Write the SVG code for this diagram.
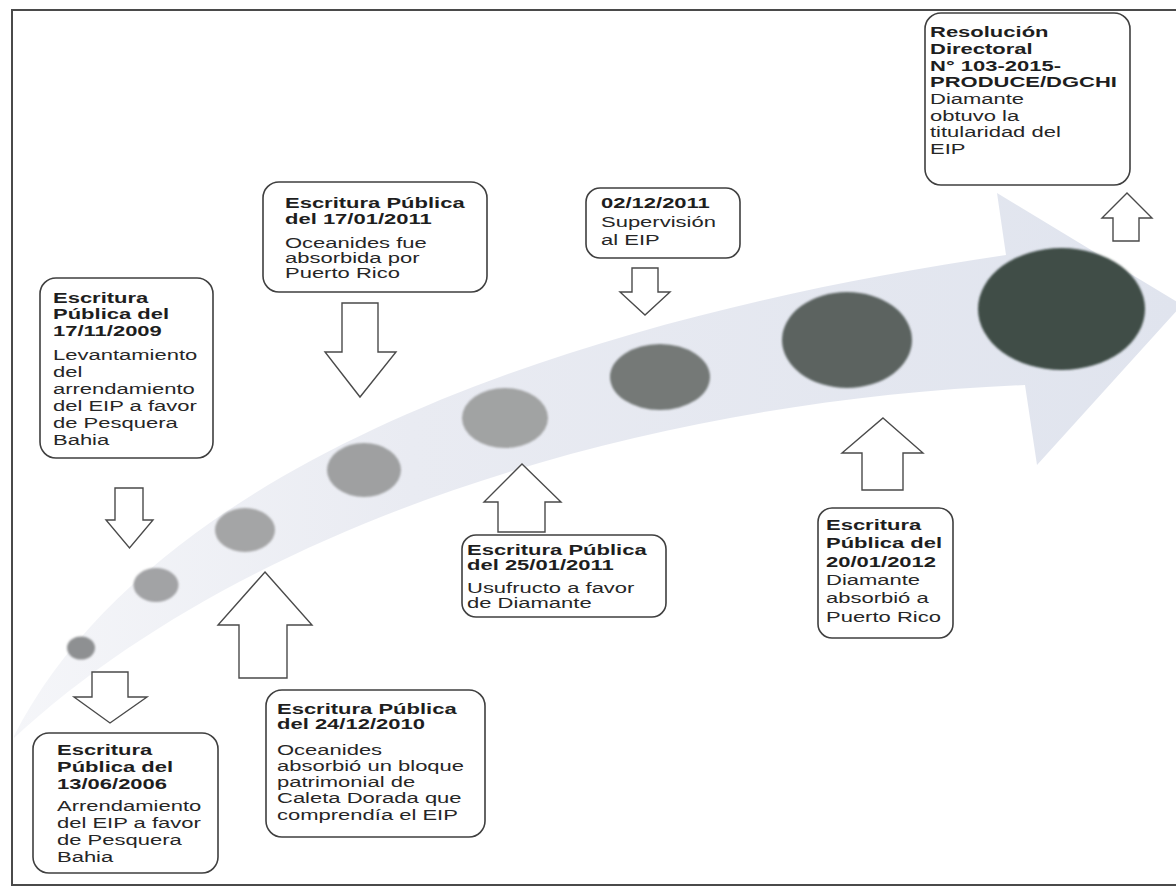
<svg xmlns="http://www.w3.org/2000/svg" width="1176" height="893" viewBox="0 0 1176 893">
<defs>
<linearGradient id="band" gradientUnits="userSpaceOnUse" x1="0" y1="0" x2="1176" y2="0">
<stop offset="0" stop-color="#f5f6f9"/>
<stop offset="0.35" stop-color="#e9ebf2"/>
<stop offset="1" stop-color="#e0e4ee"/>
</linearGradient>
<filter id="soft" x="-10%" y="-10%" width="120%" height="120%"><feGaussianBlur stdDeviation="0.8"/></filter>
</defs>
<style>
.frame{fill:none;stroke:#4a4a4a;stroke-width:2}
.box{fill:#ffffff;stroke:#3f3f3f;stroke-width:1.6}
.blk{fill:#ffffff;stroke:#4a4a4a;stroke-width:1.4;stroke-linejoin:miter}
.t{font-family:"Liberation Sans",Arial,sans-serif;font-size:15.5px;fill:#262626}
.b{font-weight:bold;fill:#1e1e1e}
</style>
<rect width="1176" height="893" fill="#ffffff"/>
<path class="frame" d="M1176,10 L12,10 L12,885 L1176,885"/>

<g id="timeline-arrow">
<path d="M14,736 C150,470 560,320 1006,255 L997,193 L1182,305 L1037,465 L1025,385 C650,400 250,520 14,738 Z" fill="url(#band)"/>
</g>

<g id="dots" filter="url(#soft)">
<ellipse cx="81" cy="648" rx="14" ry="11.5" fill="#8e9092"/>
<ellipse cx="156" cy="585" rx="22.5" ry="17" fill="#a2a3a5"/>
<ellipse cx="245" cy="530" rx="30" ry="22" fill="#a4a5a6"/>
<ellipse cx="364" cy="470" rx="37" ry="27" fill="#9fa0a1"/>
<ellipse cx="505" cy="418" rx="43" ry="30" fill="#a1a3a3"/>
<ellipse cx="660" cy="377" rx="50" ry="33" fill="#747977"/>
<ellipse cx="847" cy="340" rx="65" ry="48" fill="#5c6461"/>
<ellipse cx="1061.5" cy="309" rx="83.5" ry="61" fill="#3f4d47"/>
</g>

<g id="connectors">
<polygon class="blk" points="115,488 143,488 143,520 153,520 129.5,548 106,520 115,520"/>
<polygon class="blk" points="92,672 128,672 128,697 147,697 110,723 74,697 92,697"/>
<polygon class="blk" points="265,572 312,625 287,625 287,678 239,678 239,625 218,625"/>
<polygon class="blk" points="342,303 378,303 378,352 396,352 360,397 325,352 342,352"/>
<polygon class="blk" points="522,464 561,502 545,502 545,532 498,532 498,502 484,502"/>
<polygon class="blk" points="632,268 658,268 658,292 670,292 645,315 620,292 632,292"/>
<polygon class="blk" points="883,418 923,453 903,453 903,490 862,490 862,453 842,453"/>
<polygon class="blk" points="1127,193 1152,218 1139,218 1139,241 1113,241 1113,218 1102,218"/>
</g>

<g id="n-resolucion">
<rect class="box" x="925" y="13" width="205" height="172" rx="16"/>
<text class="t" transform="translate(930,0) scale(1.42,1)">
<tspan class="b" x="0" y="37">Resolución</tspan>
<tspan class="b" x="0" y="54">Directoral</tspan>
<tspan class="b" x="0" y="71">N° 103-2015-</tspan>
<tspan class="b" x="0" y="87">PRODUCE/DGCHI</tspan>
<tspan x="0" y="104">Diamante</tspan>
<tspan x="0" y="121">obtuvo la</tspan>
<tspan x="0" y="137">titularidad del</tspan>
<tspan x="0" y="154">EIP</tspan>
</text>
</g>

<g id="n-17-01-2011">
<rect class="box" x="263" y="182" width="224" height="110" rx="16"/>
<text class="t" transform="translate(285,0) scale(1.42,1)">
<tspan class="b" x="0" y="208">Escritura Pública</tspan>
<tspan class="b" x="0" y="224">del 17/01/2011</tspan>
<tspan x="0" y="248">Oceanides fue</tspan>
<tspan x="0" y="263">absorbida por</tspan>
<tspan x="0" y="278">Puerto Rico</tspan>
</text>
</g>

<g id="n-02-12-2011">
<rect class="box" x="586" y="188" width="154" height="70" rx="14"/>
<text class="t" transform="translate(601,0) scale(1.42,1)">
<tspan class="b" x="0" y="208">02/12/2011</tspan>
<tspan x="0" y="227">Supervisión</tspan>
<tspan x="0" y="245">al EIP</tspan>
</text>
</g>

<g id="n-17-11-2009">
<rect class="box" x="40" y="278" width="173" height="180" rx="16"/>
<text class="t" transform="translate(53,0) scale(1.42,1)">
<tspan class="b" x="0" y="303">Escritura</tspan>
<tspan class="b" x="0" y="319">Pública del</tspan>
<tspan class="b" x="0" y="336">17/11/2009</tspan>
<tspan x="0" y="360">Levantamiento</tspan>
<tspan x="0" y="377">del</tspan>
<tspan x="0" y="394">arrendamiento</tspan>
<tspan x="0" y="411">del EIP a favor</tspan>
<tspan x="0" y="428">de Pesquera</tspan>
<tspan x="0" y="445">Bahia</tspan>
</text>
</g>

<g id="n-25-01-2011">
<rect class="box" x="462" y="535" width="204" height="82" rx="14"/>
<text class="t" transform="translate(467,0) scale(1.42,1)">
<tspan class="b" x="0" y="555">Escritura Pública</tspan>
<tspan class="b" x="0" y="570">del 25/01/2011</tspan>
<tspan x="0" y="593">Usufructo a favor</tspan>
<tspan x="0" y="608">de Diamante</tspan>
</text>
</g>

<g id="n-20-01-2012">
<rect class="box" x="818" y="508" width="135" height="130" rx="14"/>
<text class="t" transform="translate(826,0) scale(1.42,1)">
<tspan class="b" x="0" y="530">Escritura</tspan>
<tspan class="b" x="0" y="548">Pública del</tspan>
<tspan class="b" x="0" y="567">20/01/2012</tspan>
<tspan x="0" y="585">Diamante</tspan>
<tspan x="0" y="603">absorbió a</tspan>
<tspan x="0" y="622">Puerto Rico</tspan>
</text>
</g>

<g id="n-13-06-2006">
<rect class="box" x="33" y="733" width="185" height="140" rx="16"/>
<text class="t" transform="translate(57,0) scale(1.42,1)">
<tspan class="b" x="0" y="755">Escritura</tspan>
<tspan class="b" x="0" y="772">Pública del</tspan>
<tspan class="b" x="0" y="789">13/06/2006</tspan>
<tspan x="0" y="811">Arrendamiento</tspan>
<tspan x="0" y="828">del EIP a favor</tspan>
<tspan x="0" y="845">de Pesquera</tspan>
<tspan x="0" y="862">Bahia</tspan>
</text>
</g>

<g id="n-24-12-2010">
<rect class="box" x="266" y="690" width="219" height="147" rx="16"/>
<text class="t" transform="translate(277,0) scale(1.42,1)">
<tspan class="b" x="0" y="714">Escritura Pública</tspan>
<tspan class="b" x="0" y="729">del 24/12/2010</tspan>
<tspan x="0" y="755">Oceanides</tspan>
<tspan x="0" y="771">absorbió un bloque</tspan>
<tspan x="0" y="787">patrimonial de</tspan>
<tspan x="0" y="803">Caleta Dorada que</tspan>
<tspan x="0" y="820">comprendía el EIP</tspan>
</text>
</g>
</svg>
